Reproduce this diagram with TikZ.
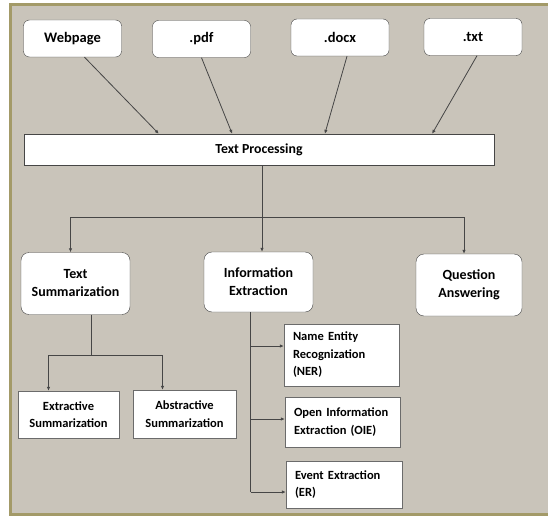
\documentclass[tikz,border=0pt]{standalone}
\usepackage{fontspec}
\setmainfont{Carlito}
\usetikzlibrary{calc}
\usetikzlibrary{positioning}
\usetikzlibrary{arrows.meta}
\definecolor{paper}{RGB}{201,196,186}
\definecolor{frameol}{RGB}{163,154,104}
\definecolor{edgegray}{RGB}{70,70,70}
\tikzstyle{srcnode} = [draw=edgegray, fill=white, rounded corners=6pt, minimum width=98pt, minimum height=37pt, inner sep=0pt, font=\fontsize{14.5}{17}\selectfont\bfseries]
\tikzstyle{procnode} = [draw=edgegray, fill=white, minimum width=470pt, minimum height=31pt, inner sep=0pt, font=\fontsize{13.8}{17}\selectfont\bfseries]
\tikzstyle{tasknode} = [draw=edgegray, fill=white, rounded corners=8pt, minimum height=62pt, inner sep=0pt, align=center, font=\fontsize{14}{18}\selectfont\bfseries]
\tikzstyle{leafnode} = [draw=edgegray!80, fill=white, inner sep=0pt, font=\fontsize{12.5}{17.5}\selectfont\bfseries]
\tikzstyle{link} = [draw=edgegray, line width=0.8pt, -{Latex[length=4pt,width=3.5pt]}]

\begin{document}
\begin{tikzpicture}[x=1pt, y=-1pt]
  \useasboundingbox (0,0) rectangle (548,516);
  \fill[white] (0,0) rectangle (548,516);
  \draw[frameol, line width=3pt, fill=paper] (10.5,5) rectangle (556,514.5);

  % sources
  \node[srcnode] (web) at (72.5,38.5) {Webpage};
  \node[srcnode] (pdf) at (201.5,39) {.pdf};
  \node[srcnode] (docx) at (340,37.5) {.docx};
  \node[srcnode] (txt) at (473,37) {.txt};
  \node[procnode] (tp) at (259,149.5) {Text Processing};

  % tasks
  \node[tasknode, minimum width=109pt] (ts) at (75.5,283.5) {Text\\Summarization};
  \node[tasknode, minimum width=109pt, minimum height=60pt] (ie) at (258.5,282) {Information\\Extraction};
  \node[tasknode, minimum width=106pt] (qa) at (469,285) {Question\\Answering};

  % leaves
  \node[leafnode, minimum width=101pt, minimum height=47pt, align=center] (ext) at (68.5,414.5) {Extractive\\Summarization};
  \node[leafnode, minimum width=103pt, minimum height=48pt, align=center] (abs) at (184.5,414) {Abstractive\\Summarization};
  \node[leafnode, minimum width=115pt, minimum height=62pt, align=left, text width=97pt] (ner) at (341.5,355) {Name Entity\\Recognization\\(NER)};
  \node[leafnode, minimum width=115pt, minimum height=50pt, align=left, text width=97pt] (oie) at (342.5,422) {Open Information\\Extraction (OIE)};
  \node[leafnode, minimum width=116pt, minimum height=47pt, align=left, text width=98pt] (er) at (344,484.5) {Event Extraction\\(ER)};

  \draw[link] ($(web.south)+(12,0)$) -- ($(tp.north west)!0.287!(tp.north east)$);
  \draw[link] (pdf.south) -- ($(tp.north west)!0.443!(tp.north east)$);
  \draw[link] ($(docx.south)+(7,0)$) -- ($(tp.north west)!0.640!(tp.north east)$);
  \draw[link] ($(txt.south)+(4,0)$) -- ($(tp.north west)!0.868!(tp.north east)$);

  \draw[edgegray, line width=0.8pt] ($(tp.south)+(3,0)$) coordinate (tpfoot) -- (tpfoot |- 0,217) coordinate (split);
  \draw[link] (split) -| ($(ts.north)+(-5,0)$);
  \draw[link] (split) -- (split |- ie.north);
  \draw[link] (split) -| ($(qa.north)+(-5,0)$);

  \draw[edgegray, line width=0.8pt] ($(ts.south)+(16,0)$) coordinate (tsfoot) -- (tsfoot |- 0,355) coordinate (tssplit);
  \draw[link] (tssplit) -| ($(ext.north)+(-20,0)$);
  \draw[link] (tssplit) -| ($(abs.north)+(-22,0)$);

  \draw[edgegray, line width=0.8pt] ($(ie.south)+(-8,0)$) coordinate (iefoot) -- (iefoot |- 0,492);
  \draw[link] (iefoot |- 0,346) -- (ner.west |- 0,346);
  \draw[link] (iefoot |- 0,419) -- (oie.west |- 0,419);
  \draw[link] (iefoot |- 0,492) -- (er.west |- 0,492);
\end{tikzpicture}
\end{document}
